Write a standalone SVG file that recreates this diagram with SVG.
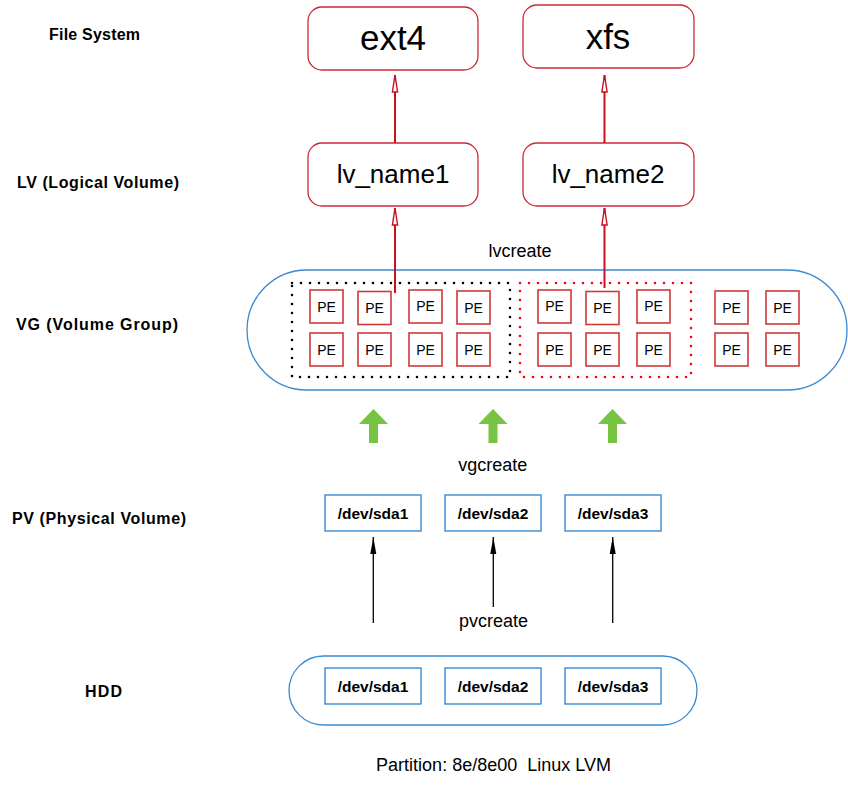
<svg xmlns="http://www.w3.org/2000/svg" width="848" height="788" viewBox="0 0 848 788">
<defs>
<style>
text{font-family:"Liberation Sans",Arial,sans-serif;fill:#000}
.lbl{font-weight:bold;font-size:16px;text-anchor:middle}
.big{font-size:35px;text-anchor:middle}
.lv{font-size:26px;text-anchor:middle}
.cmd{font-size:18px;text-anchor:middle}
.dev{font-weight:bold;font-size:15.5px;text-anchor:middle}
.pe{font-size:14px;text-anchor:middle}
.rbox{fill:#fff;stroke:#cc2a36;stroke-width:1.3}
.pebox{fill:#fff;stroke:#cc3a3a;stroke-width:1.6}
.bbox{fill:#fff;stroke:#3a8ad6;stroke-width:1.4}
.pill{fill:none;stroke:#3a8ad0;stroke-width:1.3}
.rline{stroke:#c8101e;stroke-width:2;fill:none}
.kline{stroke:#000;stroke-width:1.3;fill:none}
.green{fill:#76c442}
.dotk{fill:none;stroke:#000;stroke-width:2.6;stroke-dasharray:0 9;stroke-linecap:round}
.dotr{fill:none;stroke:#f00;stroke-width:2.6;stroke-dasharray:0 9;stroke-linecap:round}
</style>
<marker id="ro" viewBox="0 -4 19 8" refX="18" refY="0" markerWidth="19" markerHeight="8" orient="auto" markerUnits="userSpaceOnUse">
<path d="M1,-2.6 L18,0 L1,2.6 Z" fill="#fff" stroke="#c8101e" stroke-width="1.4"/>
</marker>
<marker id="ka" viewBox="0 -4 18 8" refX="17" refY="0" markerWidth="18" markerHeight="8" orient="auto" markerUnits="userSpaceOnUse">
<path d="M0,-3 L17,0 L0,3 Z" fill="#000"/>
</marker>
</defs>

<g id="labels">
<text class="lbl" x="94.5" y="40" textLength="91">File System</text>
<text class="lbl" x="98" y="188" textLength="162">LV (Logical Volume)</text>
<text class="lbl" x="97" y="330" textLength="162">VG (Volume Group)</text>
<text class="lbl" x="99" y="524" textLength="174">PV (Physical Volume)</text>
<text class="lbl" x="103.5" y="697" textLength="37">HDD</text>
</g>

<g id="fs-ext4"><rect class="rbox" x="308" y="7" width="170" height="63" rx="14"/><text class="big" x="393" y="50">ext4</text></g>
<g id="fs-xfs"><rect class="rbox" x="523" y="5" width="171" height="63" rx="14"/><text class="big" x="608" y="49">xfs</text></g>
<g id="lv1"><rect class="rbox" x="308" y="143" width="170" height="63" rx="14"/><text class="lv" x="393" y="183">lv_name1</text></g>
<g id="lv2"><rect class="rbox" x="523" y="143" width="171" height="63" rx="14"/><text class="lv" x="608" y="183">lv_name2</text></g>

<g id="vg">
<rect class="pill" x="247" y="270" width="600" height="120" rx="60"/>
<rect class="dotk" x="292" y="283" width="218" height="94"/>
<rect class="dotr" x="520" y="283" width="171" height="94"/>
<g id="pe-row1">
<rect class="pebox" x="310" y="290" width="33" height="33"/><text class="pe" x="326.5" y="311.5">PE</text>
<rect class="pebox" x="358" y="291.5" width="33" height="33"/><text class="pe" x="374.5" y="313">PE</text>
<rect class="pebox" x="409" y="290" width="33" height="33"/><text class="pe" x="425.5" y="311">PE</text>
<rect class="pebox" x="457" y="291" width="33" height="33"/><text class="pe" x="473.5" y="312.5">PE</text>
<rect class="pebox" x="538" y="290" width="33" height="33"/><text class="pe" x="554.5" y="311">PE</text>
<rect class="pebox" x="586" y="291.5" width="33" height="33"/><text class="pe" x="602.5" y="313">PE</text>
<rect class="pebox" x="637" y="290" width="33" height="33"/><text class="pe" x="653.5" y="311">PE</text>
<rect class="pebox" x="715" y="291" width="33" height="33"/><text class="pe" x="731.5" y="312.5">PE</text>
<rect class="pebox" x="766" y="291" width="33" height="33"/><text class="pe" x="782.5" y="312.5">PE</text>
</g>
<g id="pe-row2">
<rect class="pebox" x="310" y="333" width="33" height="33"/><text class="pe" x="326.5" y="354.5">PE</text>
<rect class="pebox" x="358" y="333" width="33" height="33"/><text class="pe" x="374.5" y="354.5">PE</text>
<rect class="pebox" x="409" y="333" width="33" height="33"/><text class="pe" x="425.5" y="354.5">PE</text>
<rect class="pebox" x="457" y="333" width="33" height="33"/><text class="pe" x="473.5" y="354.5">PE</text>
<rect class="pebox" x="538" y="333" width="33" height="33"/><text class="pe" x="554.5" y="354.5">PE</text>
<rect class="pebox" x="586" y="333" width="33" height="33"/><text class="pe" x="602.5" y="354.5">PE</text>
<rect class="pebox" x="637" y="333" width="33" height="33"/><text class="pe" x="653.5" y="354.5">PE</text>
<rect class="pebox" x="715" y="333" width="33" height="33"/><text class="pe" x="731.5" y="354.5">PE</text>
<rect class="pebox" x="766" y="333" width="33" height="33"/><text class="pe" x="782.5" y="354.5">PE</text>
</g>
</g>

<g id="pv1"><rect class="bbox" x="325" y="495" width="96" height="36"/><text class="dev" x="373" y="519">/dev/sda1</text></g>
<g id="pv2"><rect class="bbox" x="445" y="495" width="96" height="36"/><text class="dev" x="493" y="519">/dev/sda2</text></g>
<g id="pv3"><rect class="bbox" x="565" y="495" width="96" height="36"/><text class="dev" x="613" y="519">/dev/sda3</text></g>

<g id="hdd">
<rect class="pill" x="289" y="656" width="408" height="69" rx="34.5"/>
<g id="hdd1"><rect class="bbox" x="325" y="668" width="96" height="36"/><text class="dev" x="373" y="692">/dev/sda1</text></g>
<g id="hdd2"><rect class="bbox" x="445" y="668" width="96" height="36"/><text class="dev" x="493" y="692">/dev/sda2</text></g>
<g id="hdd3"><rect class="bbox" x="565" y="668" width="96" height="36"/><text class="dev" x="613" y="692">/dev/sda3</text></g>
</g>

<g id="connectors">
<line class="rline" x1="395" y1="143" x2="395" y2="75" marker-end="url(#ro)"/>
<line class="rline" x1="604.5" y1="143" x2="604.5" y2="75" marker-end="url(#ro)"/>
<line class="rline" x1="395" y1="293" x2="395" y2="208" marker-end="url(#ro)"/>
<line class="rline" x1="604.5" y1="288" x2="604.5" y2="208" marker-end="url(#ro)"/>
<polygon class="green" points="373.5,409 388,424 378,424 378,443 369,443 369,424 359,424"/>
<polygon class="green" points="493,409 507.5,424 497.5,424 497.5,443 488.5,443 488.5,424 478.5,424"/>
<polygon class="green" points="612.5,409 627,424 617,424 617,443 608,443 608,424 598,424"/>
<line class="kline" x1="373.3" y1="623" x2="373.3" y2="537" marker-end="url(#ka)"/>
<line class="kline" x1="493.3" y1="607" x2="493.3" y2="537" marker-end="url(#ka)"/>
<line class="kline" x1="612.7" y1="623" x2="612.7" y2="537" marker-end="url(#ka)"/>
</g>

<g id="captions">
<text class="cmd" x="520" y="257">lvcreate</text>
<text class="cmd" x="492.7" y="471">vgcreate</text>
<text class="cmd" x="493.5" y="627">pvcreate</text>
<text class="cmd" x="493.5" y="771" xml:space="preserve">Partition: 8e/8e00  Linux LVM</text>
</g>
</svg>
